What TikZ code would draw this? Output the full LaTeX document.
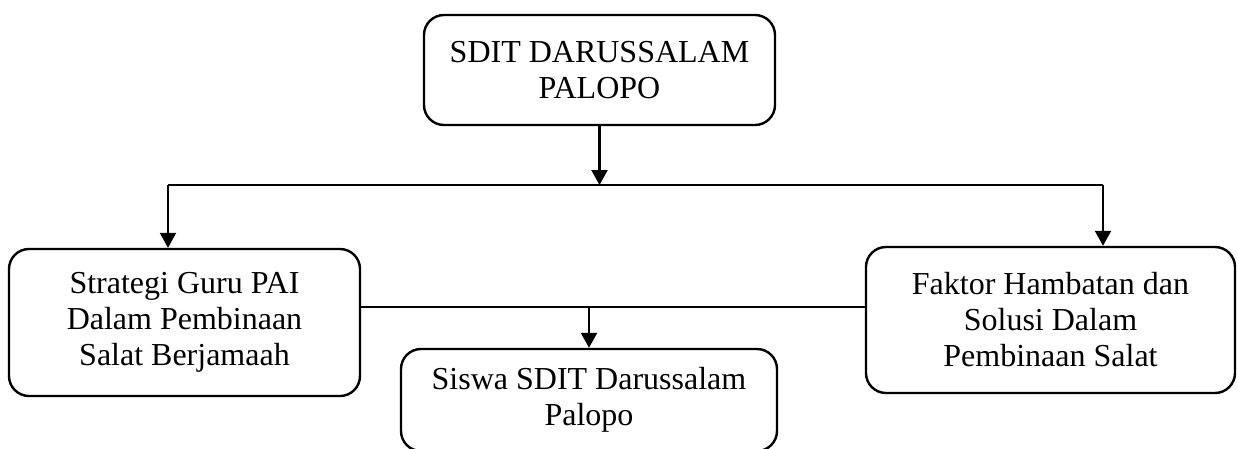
\documentclass[tikz,border=0pt]{standalone}
\usepackage{fontspec}
\setmainfont{Liberation Serif}
\usetikzlibrary{arrows.meta,positioning}
\begin{document}
\begin{tikzpicture}[x=1pt, y=-1pt,
    box/.style={draw, line width=2.4pt, rounded corners=20pt, align=center,
        inner sep=0pt, font=\fontsize{32}{36}\selectfont},
    link/.style={line width=2.2pt},
    arr/.style={line width=2.2pt, -{Triangle[width=16pt,length=15pt]}}]

    \useasboundingbox (0,0) rectangle (1237,448);

    % boxes
    \node[box, minimum width=351pt, minimum height=110pt] (sekolah) at (599.5,70) {SDIT DARUSSALAM\\PALOPO};
    \node[box, minimum width=351pt, minimum height=147pt] (strategi) at (184.5,322.5) {Strategi Guru PAI\\Dalam Pembinaan\\Salat Berjamaah};
    \node[box, minimum width=369pt, minimum height=146pt] (faktor) at (1050.5,320) {Faktor Hambatan dan\\Solusi Dalam\\Pembinaan Salat};
    \node[box, minimum width=376pt, minimum height=102pt] (siswa) at (589,400) {Siswa SDIT Darussalam\\Palopo};

    % lines
    \coordinate (busL) at (168,185);
    \coordinate (busR) at (1103,185);
    \coordinate (tengah) at (589,307);

    \draw[arr] (sekolah.south) -- (sekolah.south |- busL);
    \draw[link] (busL) -- (busR);
    \draw[arr] (busL) -- (busL |- strategi.north);
    \draw[arr] (busR) -- (busR |- faktor.north);

    \draw[link] (tengah -| strategi.east) -- (tengah -| faktor.west);
    \draw[arr] (tengah) -- (tengah |- siswa.north);

\end{tikzpicture}
\end{document}
